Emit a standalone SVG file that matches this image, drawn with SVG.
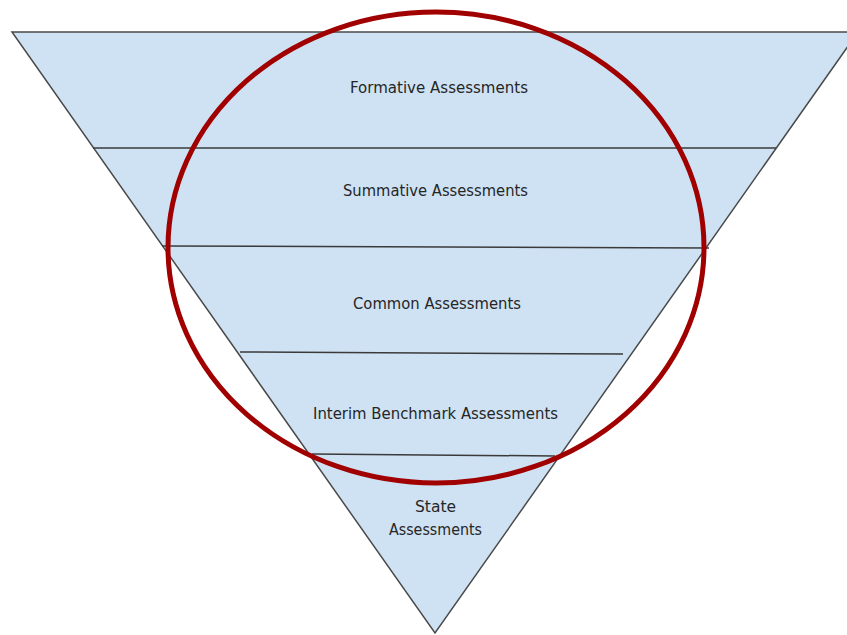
<svg xmlns="http://www.w3.org/2000/svg" width="847" height="635" viewBox="0 0 847 635">
<style>
.lbl{font-family:"DejaVu Sans","Liberation Sans",sans-serif;font-size:15.5px;fill:#262626;text-anchor:middle}
.div{stroke:#3a3a3a;stroke-width:1.5;fill:none}
</style>
<rect width="847" height="635" fill="#ffffff"/>
<g id="funnel">
<polygon points="12,32 858,32 435,633" fill="#cfe2f3" stroke="#4a4a4a" stroke-width="1.5"/>
</g>
<g id="connectors">
<line class="div" x1="93" y1="148" x2="776" y2="148"/>
<line class="div" x1="162" y1="246" x2="709" y2="248"/>
<line class="div" x1="240" y1="352" x2="623" y2="354"/>
<line class="div" x1="312" y1="454" x2="555" y2="456"/>
</g>
<g id="formative"><text class="lbl" x="439" y="93" textLength="178" lengthAdjust="spacingAndGlyphs">Formative Assessments</text></g>
<g id="summative"><text class="lbl" x="435.5" y="196" textLength="185" lengthAdjust="spacingAndGlyphs">Summative Assessments</text></g>
<g id="common"><text class="lbl" x="437" y="309" textLength="168" lengthAdjust="spacingAndGlyphs">Common Assessments</text></g>
<g id="interim"><text class="lbl" x="435.5" y="419" textLength="245" lengthAdjust="spacingAndGlyphs">Interim Benchmark Assessments</text></g>
<g id="state"><text class="lbl" x="435.5" y="512" textLength="41" lengthAdjust="spacingAndGlyphs">State</text><text class="lbl" x="435.5" y="535" textLength="93" lengthAdjust="spacingAndGlyphs">Assessments</text></g>
<g id="circle"><ellipse cx="436" cy="247.5" rx="268" ry="235.5" fill="none" stroke="#a00000" stroke-width="5"/></g>
</svg>
